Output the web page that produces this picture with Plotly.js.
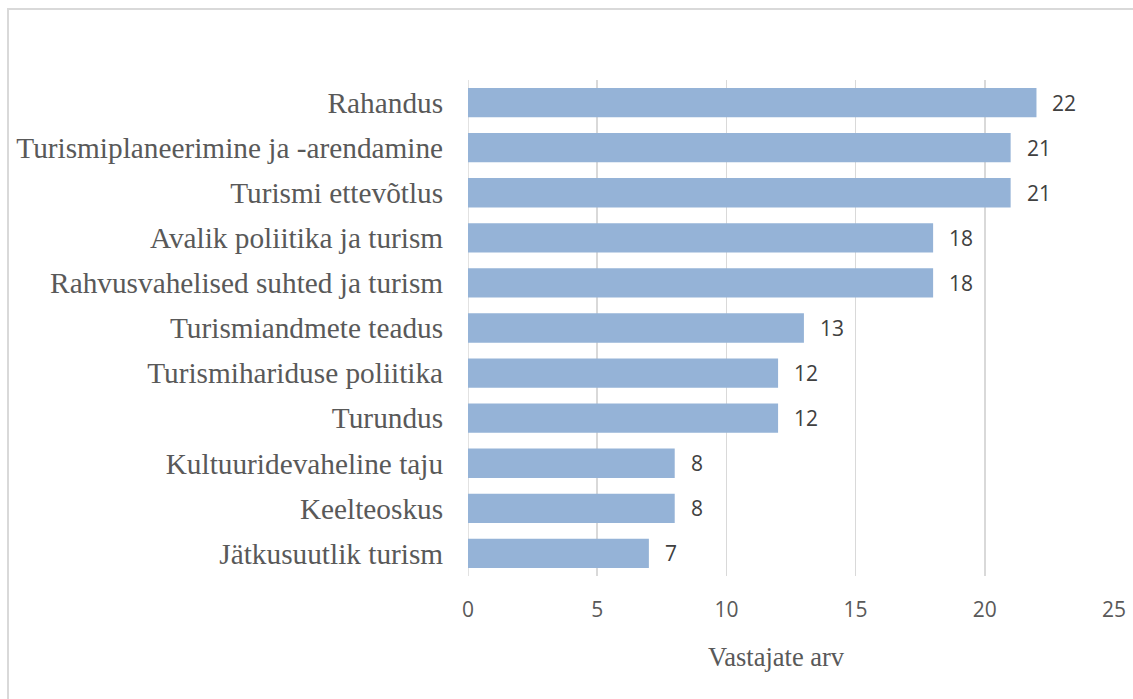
<!DOCTYPE html>
<html>
<head>
<meta charset="utf-8">
<script src="https://cdn.plot.ly/plotly-3.0.1.min.js"></script>
<style>
  html, body { margin: 0; padding: 0; overflow: hidden; background: #fff; }
  #wrap { position: relative; width: 1133px; height: 699px; overflow: hidden; }
  #chart { width: 1133px; height: 699px; }
  #frame { position: absolute; left: 7px; top: 8px; width: 1300px; height: 900px;
           border: 2px solid #d9d9d9; pointer-events: none; box-sizing: border-box; }
</style>
</head>
<body>
<div id="wrap">
  <div id="chart"></div>
  <div id="frame"></div>
</div>
<script>
const categories = [
  "Rahandus",
  "Turismiplaneerimine ja -arendamine",
  "Turismi ettevõtlus",
  "Avalik poliitika ja turism",
  "Rahvusvahelised suhted ja turism",
  "Turismiandmete teadus",
  "Turismihariduse poliitika",
  "Turundus",
  "Kultuuridevaheline taju",
  "Keelteoskus",
  "Jätkusuutlik turism"
];
const values = [22, 21, 21, 18, 18, 13, 12, 12, 8, 8, 7];
const xTickValues = [0, 5, 10, 15, 20, 25];
const xAxisTitle = "Vastajate arv";

const serif = "'Liberation Serif', 'Times New Roman', serif";
const sans = "'Open Sans', 'Liberation Sans', sans-serif";

const trace = {
  type: "bar",
  orientation: "h",
  x: values,
  y: categories,
  marker: { color: "#95b3d7" },
  hoverinfo: "x+y"
};

const annotations = values.map((v, i) => ({
  x: v, y: categories[i], xref: "x", yref: "y",
  text: String(v), showarrow: false, xanchor: "left", yanchor: "middle",
  xshift: 14, font: { family: sans, size: 21, color: "#404040" }
}));
annotations.push({
  text: xAxisTitle, xref: "paper", yref: "paper", x: 0.478, y: -0.163,
  xanchor: "center", yanchor: "middle", showarrow: false,
  font: { family: serif, size: 26.5, color: "#595959" }
});

const layout = {
  width: 1133, height: 699,
  margin: { l: 468, r: 19, t: 80, b: 123 },
  paper_bgcolor: "#ffffff",
  plot_bgcolor: "#ffffff",
  bargap: 0.35,
  showlegend: false,
  xaxis: {
    range: [0, 25],
    tickvals: xTickValues,
    showgrid: true,
    gridcolor: "#d9d9d9",
    gridwidth: 1.5,
    zeroline: false,
    showline: false,
    ticks: "outside", ticklen: 15, tickcolor: "rgba(0,0,0,0)",
    tickfont: { family: sans, size: 21, color: "#595959" },
    automargin: false,
    fixedrange: true
  },
  yaxis: {
    type: "category",
    autorange: "reversed",
    showgrid: false,
    zeroline: false,
    showline: false,
    ticks: "outside", ticklen: 18, tickcolor: "rgba(0,0,0,0)",
    tickfont: { family: serif, size: 29.3, color: "#595959" },
    automargin: false,
    fixedrange: true
  },
  shapes: [{
    type: "line", xref: "x", yref: "paper", x0: 0, x1: 0, y0: 0, y1: 1,
    line: { color: "#d9d9d9", width: 1.5 }, layer: "below"
  }],
  annotations: annotations
};

Plotly.newPlot("chart", [trace], layout, { displayModeBar: false, staticPlot: true });
</script>
</body>
</html>
